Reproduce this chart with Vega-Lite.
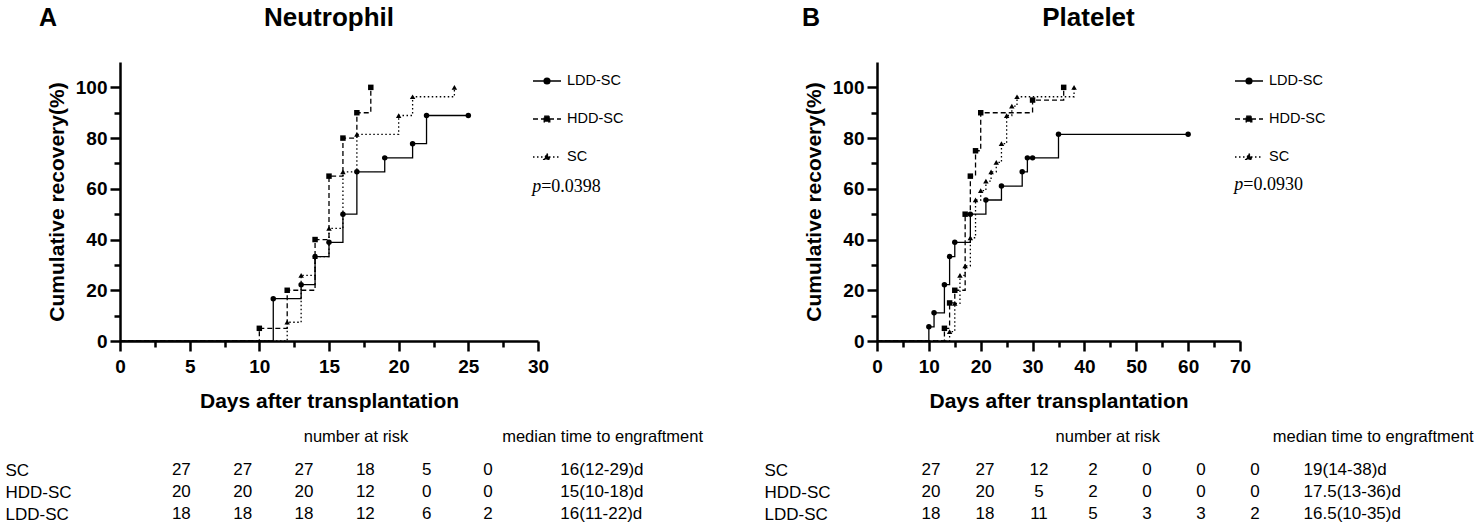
{
  "$schema": "https://vega.github.io/schema/vega-lite/v6.json",
  "background": "white",
  "padding": 5,
  "config": {
    "view": {"stroke": null},
    "font": "Liberation Sans",
    "axis": {
      "grid": false,
      "domainColor": "black",
      "domainWidth": 2.5,
      "tickColor": "black",
      "tickWidth": 2.5,
      "labelColor": "black",
      "labelFont": "Liberation Sans",
      "labelFontWeight": "bold",
      "labelFontSize": 19,
      "labelFlush": false,
      "labelOverlap": false,
      "labelLimit": 400,
      "titleColor": "black",
      "titleFont": "Liberation Sans",
      "titleFontWeight": "bold",
      "titleFontSize": 21
    },
    "legend": {
      "orient": "right",
      "offset": -10,
      "padding": 4,
      "title": null,
      "labelFont": "Liberation Sans",
      "labelFontSize": 14.5,
      "labelColor": "black",
      "labelOffset": 5,
      "symbolSize": 784,
      "symbolOpacity": 1,
      "symbolFillColor": "black",
      "symbolStrokeColor": "black",
      "symbolStrokeWidth": 1.3
    },
    "title": {"color": "black", "font": "Liberation Sans", "fontWeight": "bold"}
  },
  "datasets": {
    "curvesA": [
      {"g": "LDD-SC", "t": 0, "y": 0}, {"g": "LDD-SC", "t": 11, "y": 16.7}, {"g": "LDD-SC", "t": 13, "y": 22.2},
      {"g": "LDD-SC", "t": 14, "y": 33.3}, {"g": "LDD-SC", "t": 15, "y": 38.9}, {"g": "LDD-SC", "t": 16, "y": 50},
      {"g": "LDD-SC", "t": 17, "y": 66.7}, {"g": "LDD-SC", "t": 19, "y": 72.2}, {"g": "LDD-SC", "t": 21, "y": 77.8},
      {"g": "LDD-SC", "t": 22, "y": 88.9}, {"g": "LDD-SC", "t": 25, "y": 88.9},
      {"g": "HDD-SC", "t": 0, "y": 0}, {"g": "HDD-SC", "t": 10, "y": 5}, {"g": "HDD-SC", "t": 12, "y": 20},
      {"g": "HDD-SC", "t": 14, "y": 40}, {"g": "HDD-SC", "t": 15, "y": 65}, {"g": "HDD-SC", "t": 16, "y": 80},
      {"g": "HDD-SC", "t": 17, "y": 90}, {"g": "HDD-SC", "t": 18, "y": 100},
      {"g": "SC", "t": 0, "y": 0}, {"g": "SC", "t": 12, "y": 7.4}, {"g": "SC", "t": 13, "y": 25.9},
      {"g": "SC", "t": 14, "y": 33.3}, {"g": "SC", "t": 15, "y": 44.4}, {"g": "SC", "t": 16, "y": 66.7},
      {"g": "SC", "t": 17, "y": 81.5}, {"g": "SC", "t": 20, "y": 88.9}, {"g": "SC", "t": 21, "y": 96.3},
      {"g": "SC", "t": 24, "y": 100}
    ],
    "curvesB": [
      {"g": "LDD-SC", "t": 0, "y": 0}, {"g": "LDD-SC", "t": 10, "y": 5.6}, {"g": "LDD-SC", "t": 11, "y": 11.1},
      {"g": "LDD-SC", "t": 13, "y": 22.2}, {"g": "LDD-SC", "t": 14, "y": 33.3}, {"g": "LDD-SC", "t": 15, "y": 38.9},
      {"g": "LDD-SC", "t": 18, "y": 50}, {"g": "LDD-SC", "t": 21, "y": 55.6}, {"g": "LDD-SC", "t": 24, "y": 61.1},
      {"g": "LDD-SC", "t": 28, "y": 66.7}, {"g": "LDD-SC", "t": 29, "y": 72.2}, {"g": "LDD-SC", "t": 30, "y": 72.2},
      {"g": "LDD-SC", "t": 35, "y": 81.5}, {"g": "LDD-SC", "t": 60, "y": 81.5},
      {"g": "HDD-SC", "t": 0, "y": 0}, {"g": "HDD-SC", "t": 13, "y": 5}, {"g": "HDD-SC", "t": 14, "y": 15},
      {"g": "HDD-SC", "t": 15, "y": 20}, {"g": "HDD-SC", "t": 17, "y": 50}, {"g": "HDD-SC", "t": 18, "y": 65},
      {"g": "HDD-SC", "t": 19, "y": 75}, {"g": "HDD-SC", "t": 20, "y": 90}, {"g": "HDD-SC", "t": 30, "y": 95},
      {"g": "HDD-SC", "t": 36, "y": 100},
      {"g": "SC", "t": 0, "y": 0}, {"g": "SC", "t": 14, "y": 3.7}, {"g": "SC", "t": 15, "y": 14.8},
      {"g": "SC", "t": 16, "y": 25.9}, {"g": "SC", "t": 17, "y": 29.6}, {"g": "SC", "t": 18, "y": 40.7},
      {"g": "SC", "t": 19, "y": 55.6}, {"g": "SC", "t": 20, "y": 59.3}, {"g": "SC", "t": 21, "y": 63},
      {"g": "SC", "t": 22, "y": 66.7}, {"g": "SC", "t": 23, "y": 70.4}, {"g": "SC", "t": 24, "y": 77.8},
      {"g": "SC", "t": 25, "y": 88.9}, {"g": "SC", "t": 26, "y": 92.6}, {"g": "SC", "t": 27, "y": 96.3},
      {"g": "SC", "t": 38, "y": 100}
    ],
    "riskA": [
      {"g": "SC", "t": 0, "v": "27"}, {"g": "SC", "t": 5, "v": "27"}, {"g": "SC", "t": 10, "v": "27"},
      {"g": "SC", "t": 15, "v": "18"}, {"g": "SC", "t": 20, "v": "5"}, {"g": "SC", "t": 25, "v": "0"},
      {"g": "HDD-SC", "t": 0, "v": "20"}, {"g": "HDD-SC", "t": 5, "v": "20"}, {"g": "HDD-SC", "t": 10, "v": "20"},
      {"g": "HDD-SC", "t": 15, "v": "12"}, {"g": "HDD-SC", "t": 20, "v": "0"}, {"g": "HDD-SC", "t": 25, "v": "0"},
      {"g": "LDD-SC", "t": 0, "v": "18"}, {"g": "LDD-SC", "t": 5, "v": "18"}, {"g": "LDD-SC", "t": 10, "v": "18"},
      {"g": "LDD-SC", "t": 15, "v": "12"}, {"g": "LDD-SC", "t": 20, "v": "6"}, {"g": "LDD-SC", "t": 25, "v": "2"}
    ],
    "medA": [
      {"g": "SC", "t": 30.9, "v": "16(12-29)d"},
      {"g": "HDD-SC", "t": 30.9, "v": "15(10-18)d"},
      {"g": "LDD-SC", "t": 30.9, "v": "16(11-22)d"}
    ],
    "riskB": [
      {"g": "SC", "t": 0, "v": "27"}, {"g": "SC", "t": 10, "v": "27"}, {"g": "SC", "t": 20, "v": "12"},
      {"g": "SC", "t": 30, "v": "2"}, {"g": "SC", "t": 40, "v": "0"}, {"g": "SC", "t": 50, "v": "0"},
      {"g": "SC", "t": 60, "v": "0"},
      {"g": "HDD-SC", "t": 0, "v": "20"}, {"g": "HDD-SC", "t": 10, "v": "20"}, {"g": "HDD-SC", "t": 20, "v": "5"},
      {"g": "HDD-SC", "t": 30, "v": "2"}, {"g": "HDD-SC", "t": 40, "v": "0"}, {"g": "HDD-SC", "t": 50, "v": "0"},
      {"g": "HDD-SC", "t": 60, "v": "0"},
      {"g": "LDD-SC", "t": 0, "v": "18"}, {"g": "LDD-SC", "t": 10, "v": "18"}, {"g": "LDD-SC", "t": 20, "v": "11"},
      {"g": "LDD-SC", "t": 30, "v": "5"}, {"g": "LDD-SC", "t": 40, "v": "3"}, {"g": "LDD-SC", "t": 50, "v": "3"},
      {"g": "LDD-SC", "t": 60, "v": "2"}
    ],
    "medB": [
      {"g": "SC", "t": 69, "v": "19(14-38)d"},
      {"g": "HDD-SC", "t": 69, "v": "17.5(13-36)d"},
      {"g": "LDD-SC", "t": 69, "v": "16.5(10-35)d"}
    ]
  },
  "spacing": 61,
  "resolve": {"legend": {"color": "independent", "fill": "independent", "stroke": "independent"}},
  "hconcat": [
    {
      "title": {"text": "A", "anchor": "start", "frame": "bounds", "fontSize": 25, "offset": -26, "dx": 34},
      "spacing": 17,
      "resolve": {"legend": {"color": "independent", "fill": "independent", "stroke": "independent"}},
      "vconcat": [
        {
          "width": 418,
          "height": 279,
          "title": {"text": "Neutrophil", "fontSize": 26, "anchor": "middle", "offset": 31},
          "layer": [
            {
              "data": {"name": "curvesA"},
              "mark": {"type": "line", "interpolate": "step-after", "color": "black", "strokeWidth": 1.3},
              "encoding": {
                "x": {"field": "t", "type": "quantitative", "scale": {"domain": [0, 30]},
                  "axis": {"orient": "bottom", "values": [0, 5, 10, 15, 20, 25, 30], "tickSize": 10, "labelPadding": 6,
                    "title": "Days after transplantation", "titlePadding": 14}},
                "y": {"field": "y", "type": "quantitative", "scale": {"domain": [0, 110]},
                  "axis": {"orient": "left", "values": [0, 20, 40, 60, 80, 100], "tickSize": 10, "labelPadding": 3,
                    "title": "Cumulative recovery(%)", "titlePadding": 8}},
                "strokeDash": {"field": "g", "type": "nominal",
                  "scale": {"domain": ["LDD-SC", "HDD-SC", "SC"], "range": [[1, 0], [5, 3], [1.5, 2.5]]}, "legend": null}
              }
            },
            {
              "data": {"name": "curvesA"},
              "transform": [{"filter": "datum.t > 0 && datum.g === 'LDD-SC'"}],
              "mark": {"type": "point", "shape": "circle", "filled": true, "color": "black", "opacity": 1, "size": 30},
              "encoding": {
                "x": {"field": "t", "type": "quantitative", "scale": {"domain": [0, 30]},
                  "axis": {"orient": "bottom", "values": [2.5, 7.5, 12.5, 17.5, 22.5, 27.5], "tickSize": 6, "labels": false, "domain": false, "title": null}},
                "y": {"field": "y", "type": "quantitative", "scale": {"domain": [0, 110]},
                  "axis": {"orient": "left", "values": [10, 30, 50, 70, 90], "tickSize": 6, "labels": false, "domain": false, "title": null}}
              }
            },
            {
              "data": {"name": "curvesA"},
              "transform": [{"filter": "datum.t > 0 && datum.g === 'HDD-SC'"}],
              "mark": {"type": "point", "shape": "square", "filled": true, "color": "black", "opacity": 1, "size": 30},
              "encoding": {
                "x": {"field": "t", "type": "quantitative", "axis": null},
                "y": {"field": "y", "type": "quantitative", "axis": null}
              }
            },
            {
              "data": {"name": "curvesA"},
              "transform": [{"filter": "datum.t > 0 && datum.g === 'SC'"}],
              "mark": {"type": "point", "shape": "triangle-up", "filled": true, "color": "black", "opacity": 1, "size": 30},
              "encoding": {
                "x": {"field": "t", "type": "quantitative", "axis": null},
                "y": {"field": "y", "type": "quantitative", "axis": null}
              }
            },
            {
              "data": {"name": "curvesA"},
              "transform": [{"filter": "false"}],
              "layer": [
                {
                  "mark": {"type": "point", "filled": true, "color": "black", "stroke": "black", "strokeWidth": 1.3, "opacity": 1},
                  "encoding": {
                    "x": {"field": "t", "type": "quantitative", "axis": null},
                    "y": {"field": "y", "type": "quantitative", "axis": null},
                    "color": {"datum": "LDD-SC", "type": "nominal", "scale": {"range": ["black"]},
                      "legend": {"symbolType": "M-1,0H1M0.21,0A0.21,0.21,0,1,1,-0.21,0A0.21,0.21,0,1,1,0.21,0Z"}}
                  }
                },
                {
                  "mark": {"type": "point", "filled": true, "color": "black", "stroke": "black", "strokeWidth": 1.3, "strokeDash": [5, 3], "opacity": 1},
                  "encoding": {
                    "x": {"field": "t", "type": "quantitative", "axis": null},
                    "y": {"field": "y", "type": "quantitative", "axis": null},
                    "fill": {"datum": "HDD-SC", "type": "nominal", "scale": {"range": ["black"]},
                      "legend": {"symbolType": "M-1,0H1M-0.2,-0.2H0.2V0.2H-0.2Z", "symbolDash": [5, 3]}}
                  }
                },
                {
                  "mark": {"type": "point", "filled": true, "color": "black", "stroke": "black", "strokeWidth": 1.3, "strokeDash": [1.5, 2.5], "opacity": 1},
                  "encoding": {
                    "x": {"field": "t", "type": "quantitative", "axis": null},
                    "y": {"field": "y", "type": "quantitative", "axis": null},
                    "stroke": {"datum": "SC", "type": "nominal", "scale": {"range": ["black"]},
                      "legend": {"symbolType": "M-1,0H1M0,-0.25L0.23,0.17H-0.23Z", "symbolDash": [1.5, 2.5]}}
                  }
                }
              ]
            },
            {
              "data": {"values": [{"p": "p", "rest": "=0.0398"}]},
              "layer": [
                {"mark": {"type": "text", "font": "Liberation Serif", "fontStyle": "italic", "fontSize": 18, "align": "left", "baseline": "middle", "color": "black"},
                  "encoding": {"x": {"datum": 29.58, "type": "quantitative", "axis": null}, "y": {"datum": 60.7, "type": "quantitative", "axis": null}, "text": {"field": "p"}}},
                {"mark": {"type": "text", "font": "Liberation Serif", "fontSize": 18, "align": "left", "baseline": "middle", "color": "black", "dx": 9},
                  "encoding": {"x": {"datum": 29.58, "type": "quantitative", "axis": null}, "y": {"datum": 60.7, "type": "quantitative", "axis": null}, "text": {"field": "rest"}}}
              ]
            }
          ],
          "resolve": {"axis": {"x": "independent", "y": "independent"}}
        },
        {
          "width": 552,
          "height": {"step": 22},
          "layer": [
            {
              "data": {"name": "riskA"},
              "mark": {"type": "text", "align": "center", "baseline": "middle", "font": "Liberation Sans", "fontSize": 17, "color": "black"},
              "encoding": {
                "x": {"field": "t", "type": "quantitative", "scale": {"domain": [-0.37, 40]},
                  "axis": {"orient": "top", "values": [14.2, 34.3], "labelExpr": "datum.index == 0 ? 'number at risk' : 'median time to engraftment'",
                    "domain": false, "ticks": false, "labelFontWeight": "normal", "labelFontSize": 16.5, "labelPadding": 15, "title": null}},
                "y": {"field": "g", "type": "nominal", "sort": ["SC", "HDD-SC", "LDD-SC"],
                  "axis": {"domain": false, "ticks": false, "labelAlign": "left", "labelPadding": 115, "labelFontWeight": "normal", "labelFontSize": 17, "title": null}},
                "text": {"field": "v"}
              }
            },
            {
              "data": {"name": "medA"},
              "mark": {"type": "text", "align": "left", "baseline": "middle", "font": "Liberation Sans", "fontSize": 17, "color": "black"},
              "encoding": {
                "x": {"field": "t", "type": "quantitative"},
                "y": {"field": "g", "type": "nominal", "sort": ["SC", "HDD-SC", "LDD-SC"]},
                "text": {"field": "v"}
              }
            }
          ]
        }
      ]
    },
    {
      "title": {"text": "B", "anchor": "start", "frame": "bounds", "fontSize": 25, "offset": -26, "dx": 38},
      "spacing": 17,
      "resolve": {"legend": {"color": "independent", "fill": "independent", "stroke": "independent"}},
      "vconcat": [
        {
          "width": 363,
          "height": 279,
          "title": {"text": "Platelet", "fontSize": 26, "anchor": "middle", "offset": 31, "dx": 30},
          "layer": [
            {
              "data": {"name": "curvesB"},
              "mark": {"type": "line", "interpolate": "step-after", "color": "black", "strokeWidth": 1.3},
              "encoding": {
                "x": {"field": "t", "type": "quantitative", "scale": {"domain": [0, 70]},
                  "axis": {"orient": "bottom", "values": [0, 10, 20, 30, 40, 50, 60, 70], "tickSize": 10, "labelPadding": 6,
                    "title": "Days after transplantation", "titlePadding": 14}},
                "y": {"field": "y", "type": "quantitative", "scale": {"domain": [0, 110]},
                  "axis": {"orient": "left", "values": [0, 20, 40, 60, 80, 100], "tickSize": 10, "labelPadding": 3,
                    "title": "Cumulative recovery(%)", "titlePadding": 8}},
                "strokeDash": {"field": "g", "type": "nominal",
                  "scale": {"domain": ["LDD-SC", "HDD-SC", "SC"], "range": [[1, 0], [5, 3], [1.5, 2.5]]}, "legend": null}
              }
            },
            {
              "data": {"name": "curvesB"},
              "transform": [{"filter": "datum.t > 0 && datum.g === 'LDD-SC'"}],
              "mark": {"type": "point", "shape": "circle", "filled": true, "color": "black", "opacity": 1, "size": 30},
              "encoding": {
                "x": {"field": "t", "type": "quantitative", "scale": {"domain": [0, 70]},
                  "axis": {"orient": "bottom", "values": [5, 15, 25, 35, 45, 55, 65], "tickSize": 6, "labels": false, "domain": false, "title": null}},
                "y": {"field": "y", "type": "quantitative", "scale": {"domain": [0, 110]},
                  "axis": {"orient": "left", "values": [10, 30, 50, 70, 90], "tickSize": 6, "labels": false, "domain": false, "title": null}}
              }
            },
            {
              "data": {"name": "curvesB"},
              "transform": [{"filter": "datum.t > 0 && datum.g === 'HDD-SC'"}],
              "mark": {"type": "point", "shape": "square", "filled": true, "color": "black", "opacity": 1, "size": 30},
              "encoding": {
                "x": {"field": "t", "type": "quantitative", "axis": null},
                "y": {"field": "y", "type": "quantitative", "axis": null}
              }
            },
            {
              "data": {"name": "curvesB"},
              "transform": [{"filter": "datum.t > 0 && datum.g === 'SC'"}],
              "mark": {"type": "point", "shape": "triangle-up", "filled": true, "color": "black", "opacity": 1, "size": 30},
              "encoding": {
                "x": {"field": "t", "type": "quantitative", "axis": null},
                "y": {"field": "y", "type": "quantitative", "axis": null}
              }
            },
            {
              "data": {"name": "curvesB"},
              "transform": [{"filter": "false"}],
              "layer": [
                {
                  "mark": {"type": "point", "filled": true, "color": "black", "stroke": "black", "strokeWidth": 1.3, "opacity": 1},
                  "encoding": {
                    "x": {"field": "t", "type": "quantitative", "axis": null},
                    "y": {"field": "y", "type": "quantitative", "axis": null},
                    "color": {"datum": "LDD-SC", "type": "nominal", "scale": {"range": ["black"]},
                      "legend": {"symbolType": "M-1,0H1M0.21,0A0.21,0.21,0,1,1,-0.21,0A0.21,0.21,0,1,1,0.21,0Z"}}
                  }
                },
                {
                  "mark": {"type": "point", "filled": true, "color": "black", "stroke": "black", "strokeWidth": 1.3, "strokeDash": [5, 3], "opacity": 1},
                  "encoding": {
                    "x": {"field": "t", "type": "quantitative", "axis": null},
                    "y": {"field": "y", "type": "quantitative", "axis": null},
                    "fill": {"datum": "HDD-SC", "type": "nominal", "scale": {"range": ["black"]},
                      "legend": {"symbolType": "M-1,0H1M-0.2,-0.2H0.2V0.2H-0.2Z", "symbolDash": [5, 3]}}
                  }
                },
                {
                  "mark": {"type": "point", "filled": true, "color": "black", "stroke": "black", "strokeWidth": 1.3, "strokeDash": [1.5, 2.5], "opacity": 1},
                  "encoding": {
                    "x": {"field": "t", "type": "quantitative", "axis": null},
                    "y": {"field": "y", "type": "quantitative", "axis": null},
                    "stroke": {"datum": "SC", "type": "nominal", "scale": {"range": ["black"]},
                      "legend": {"symbolType": "M-1,0H1M0,-0.25L0.23,0.17H-0.23Z", "symbolDash": [1.5, 2.5]}}
                  }
                }
              ]
            },
            {
              "data": {"values": [{"p": "p", "rest": "=0.0930"}]},
              "layer": [
                {"mark": {"type": "text", "font": "Liberation Serif", "fontStyle": "italic", "fontSize": 18, "align": "left", "baseline": "middle", "color": "black"},
                  "encoding": {"x": {"datum": 68.9, "type": "quantitative", "axis": null}, "y": {"datum": 61.7, "type": "quantitative", "axis": null}, "text": {"field": "p"}}},
                {"mark": {"type": "text", "font": "Liberation Serif", "fontSize": 18, "align": "left", "baseline": "middle", "color": "black", "dx": 9},
                  "encoding": {"x": {"datum": 68.9, "type": "quantitative", "axis": null}, "y": {"datum": 61.7, "type": "quantitative", "axis": null}, "text": {"field": "rest"}}}
              ]
            }
          ],
          "resolve": {"axis": {"x": "independent", "y": "independent"}}
        },
        {
          "width": 540,
          "height": {"step": 22},
          "layer": [
            {
              "data": {"name": "riskB"},
              "mark": {"type": "text", "align": "center", "baseline": "middle", "font": "Liberation Sans", "fontSize": 17, "color": "black"},
              "encoding": {
                "x": {"field": "t", "type": "quantitative", "scale": {"domain": [-1.13, 90]},
                  "axis": {"orient": "top", "values": [32.65, 81.8], "labelExpr": "datum.index == 0 ? 'number at risk' : 'median time to engraftment'",
                    "domain": false, "ticks": false, "labelFontWeight": "normal", "labelFontSize": 16.5, "labelPadding": 15, "title": null}},
                "y": {"field": "g", "type": "nominal", "sort": ["SC", "HDD-SC", "LDD-SC"],
                  "axis": {"domain": false, "ticks": false, "labelAlign": "left", "labelPadding": 113, "labelFontWeight": "normal", "labelFontSize": 17, "title": null}},
                "text": {"field": "v"}
              }
            },
            {
              "data": {"name": "medB"},
              "mark": {"type": "text", "align": "left", "baseline": "middle", "font": "Liberation Sans", "fontSize": 17, "color": "black"},
              "encoding": {
                "x": {"field": "t", "type": "quantitative"},
                "y": {"field": "g", "type": "nominal", "sort": ["SC", "HDD-SC", "LDD-SC"]},
                "text": {"field": "v"}
              }
            }
          ]
        }
      ]
    }
  ]
}
